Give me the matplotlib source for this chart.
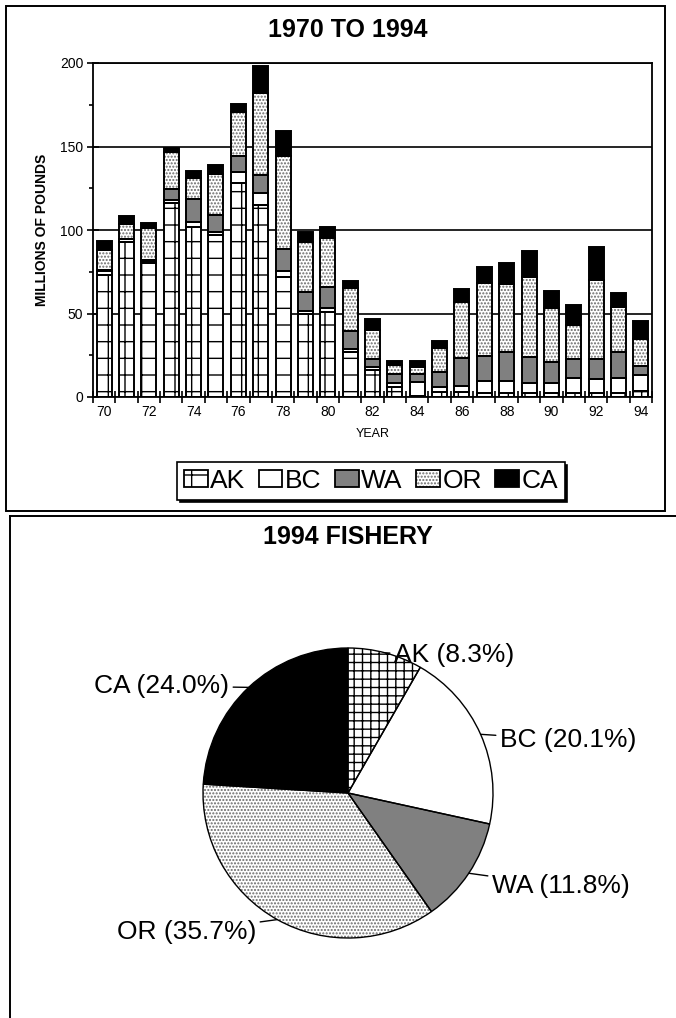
import matplotlib
matplotlib.use("Agg")
import matplotlib.pyplot as plt
import numpy as np
from matplotlib.patches import Patch, Rectangle
from matplotlib.lines import Line2D
from matplotlib.legend_handler import HandlerTuple

plt.rcParams['font.family'] = ['Liberation Sans', 'DejaVu Sans']
plt.rcParams['hatch.linewidth'] = 1.0

# ---- data: shrimp landings, millions of pounds ----
years = list(range(1970, 1995))
tick_labels = ['70', '72', '74', '76', '78', '80', '82', '84', '86', '88', '90', '92', '94']
states = ['AK', 'BC', 'WA', 'OR', 'CA']

ak = [73, 93, 80, 116, 102, 97, 128, 115, 72, 50, 51, 27, 16, 6, 0.5,
      3, 3, 2.2, 2.2, 2.2, 2.6, 2.6, 2.6, 2.6, 3.8]
bc = [2.5, 1.5, 1.5, 2, 3, 2, 7, 7, 3.6, 1.5, 2, 1.7, 2, 2.5, 8.6,
      3.2, 3.6, 7.6, 7.4, 6, 5.6, 9, 8, 9, 9.2]
wa = [0.5, 0.3, 0.5, 6.4, 13.4, 10, 9.3, 11, 12.8, 11.5, 12.7, 10.8, 4.5, 5.4, 4.6,
      9, 17, 14.7, 17.5, 15.5, 12.9, 11, 12, 15.5, 5.4]
oregon = [12, 9, 19, 22.6, 12.9, 24.5, 26.5, 49, 56, 29.6, 29.3, 25.5, 17.4, 5, 4.3,
          14, 33, 44, 40.4, 48.3, 32, 20.5, 47.4, 27, 16.3]
ca = [5.5, 4.4, 3.4, 2.3, 4.2, 5.4, 4.5, 16, 15, 6.4, 7, 4.6, 6.7, 2.4, 3.5,
      4.5, 8, 9.5, 13, 15.6, 10.6, 12, 20, 8.4, 11.0]

# 1994 shares (percent)
pie_shares = [8.3, 20.1, 11.8, 35.7, 24.0]

series = [ak, bc, wa, oregon, ca]

# fill styles per state: face colour, hatch, hatch colour, hatch used in the pie
styles = {
    'AK': dict(face='white', hatch='+', hcol='black', phatch='++'),
    'BC': dict(face='white', hatch=None, hcol='black', phatch=None),
    'WA': dict(face='#808080', hatch=None, hcol='black', phatch=None),
    'OR': dict(face='white', hatch='.....', hcol='#6a6a6a', phatch='.....'),
    'CA': dict(face='black', hatch=None, hcol='black', phatch=None),
}

W, H = 676, 1018
fig = plt.figure(figsize=(W / 100, H / 100), dpi=100)


def fx(px):
    return px / W


def fy(py):
    return 1 - py / H


# ---- panel frames ----
fig.add_artist(Rectangle((fx(6), fy(511)), fx(665) - fx(6), fy(6) - fy(511),
                         transform=fig.transFigure, fill=False,
                         edgecolor='black', linewidth=1.4))
fig.add_artist(Line2D([fx(10), 1.0], [fy(516), fy(516)], transform=fig.transFigure,
                      color='black', linewidth=1.4))
fig.add_artist(Line2D([fx(10), fx(10)], [fy(516), 0.0], transform=fig.transFigure,
                      color='black', linewidth=1.4))

# ---- stacked bar chart ----
ax = fig.add_axes([fx(93), fy(397), fx(652) - fx(93), fy(63) - fy(397)])
x = np.arange(len(years))
bottom = np.zeros(len(years))
bar_w = 0.67
handles = []
for name, vals in zip(states, series):
    st = styles[name]
    vals = np.asarray(vals, dtype=float)
    ax.bar(x, vals, bottom=bottom, width=bar_w, color=st['face'], hatch=st['hatch'],
           edgecolor=st['hcol'], linewidth=0, zorder=2)
    ax.bar(x, vals, bottom=bottom, width=bar_w, fill=False, edgecolor='black',
           linewidth=1.4, zorder=3)
    bottom += vals
    handles.append((Patch(facecolor=st['face'], hatch=st['hatch'], edgecolor=st['hcol'], linewidth=0),
                    Patch(fill=False, edgecolor='black', linewidth=1.3)))

ax.set_xlim(-0.5, len(years) - 0.5)
ax.set_ylim(0, 200)
ax.set_yticks([0, 50, 100, 150, 200])
ax.set_yticks([25, 75, 125, 175], minor=True)
ax.set_xticks(x[::2])
ax.set_xticklabels(tick_labels)
ax.set_xticks(np.arange(len(years) + 1) - 0.5, minor=True)
ax.tick_params(axis='y', which='major', direction='inout', length=8, width=1.2,
               labelsize=10, pad=3)
ax.tick_params(axis='y', which='minor', direction='out', length=3, width=1.2)
ax.tick_params(axis='x', which='major', length=0, labelsize=10, pad=6)
ax.tick_params(axis='x', which='minor', direction='inout', length=8, width=1.2)
ax.yaxis.grid(True, which='major', color='black', linewidth=1.2)
ax.set_axisbelow(True)
for sp in ax.spines.values():
    sp.set_linewidth(1.3)
ax.set_xlabel('YEAR', fontsize=9, labelpad=6)
ax.set_ylabel('MILLIONS OF POUNDS', fontsize=10, fontweight='bold', labelpad=8)

fig.text(fx(348), fy(30), '1970 TO 1994', ha='center', va='center',
         fontsize=18, fontweight='bold')

leg = fig.legend(handles, states, loc='center', bbox_to_anchor=(fx(371), fy(481)),
                 ncol=5, fontsize=19,
                 handler_map={tuple: HandlerTuple(ndivide=1, pad=0)},
                 handlelength=0.9, handleheight=0.6, handletextpad=0.1,
                 columnspacing=0.5, borderpad=0.25, fancybox=False,
                 shadow={'color': 'black', 'alpha': 1.0}, frameon=True)
leg.get_frame().set_edgecolor('black')
leg.get_frame().set_linewidth(1.2)

# ---- 1994 pie ----
R = 145.0
half = 200.0
pax = fig.add_axes([fx(348 - half), fy(793 + half), 2 * half / W, 2 * half / H])
wedges, _ = pax.pie(pie_shares, startangle=90, counterclock=False,
                    colors=[styles[s]['face'] for s in states],
                    wedgeprops=dict(linewidth=0))
for w, name in zip(wedges, states):
    st = styles[name]
    if st['phatch']:
        w.set_hatch(st['phatch'])
    w.set_edgecolor(st['hcol'])
pax.pie(pie_shares, startangle=90, counterclock=False,
        wedgeprops=dict(fill=False, edgecolor='black', linewidth=1.0))
pax.set_xlim(-half / R, half / R)
pax.set_ylim(-half / R, half / R)
pax.set_aspect('equal')

fig.text(fx(348), fy(537), '1994 FISHERY', ha='center', va='center',
         fontsize=18, fontweight='bold')

label_pos = {
    'AK': ((394 - 348) / R, (793 - 655) / R, 'left'),
    'BC': ((500 - 348) / R, (793 - 740) / R, 'left'),
    'WA': ((492 - 348) / R, (793 - 886) / R, 'left'),
    'OR': ((256 - 348) / R, (793 - 932) / R, 'right'),
    'CA': ((229 - 348) / R, (793 - 686) / R, 'right'),
}
total = sum(pie_shares)
cum = np.concatenate([[0], np.cumsum(pie_shares)])
for i, name in enumerate(states):
    mid = np.deg2rad(90 - 360 * (cum[i] + cum[i + 1]) / 2 / total)
    tx, ty, ha = label_pos[name]
    pax.annotate(f'{name} ({pie_shares[i]:.1f}%)', xy=(np.cos(mid), np.sin(mid)),
                 xytext=(tx, ty), ha=ha, va='center', fontsize=19,
                 arrowprops=dict(arrowstyle='-', color='black', lw=1.0,
                                 shrinkA=1, shrinkB=0))

fig.savefig('out.png', dpi=100)
